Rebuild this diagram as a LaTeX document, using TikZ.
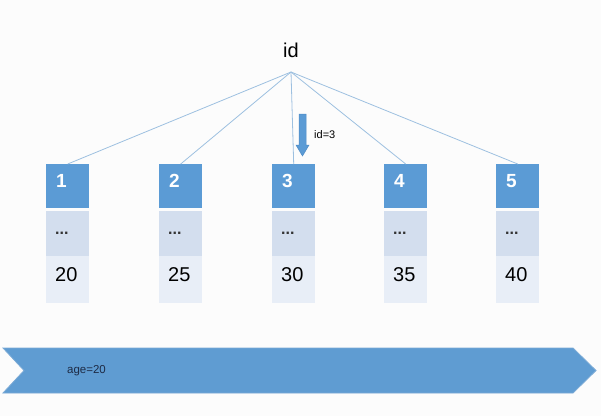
\documentclass[tikz,border=0pt]{standalone}
\usepackage{fontspec}
\setmainfont{Liberation Sans}
\definecolor{keyblue}{HTML}{5B9BD5}
\definecolor{keyedge}{HTML}{4F8CC6}
\definecolor{dotbox}{HTML}{D3DEEE}
\definecolor{valbox}{HTML}{E8EEF7}
\definecolor{linkline}{HTML}{9DC0E0}
\definecolor{chevfill}{HTML}{5F9CD2}
\definecolor{chevedge}{HTML}{7BAAD6}
\definecolor{agetext}{HTML}{1E2B45}
\begin{document}
\begin{tikzpicture}[x=1pt,y=-1pt,
  keybox/.style={fill=keyblue,anchor=north west,minimum width=43pt,minimum height=44pt,inner sep=0pt},
  dotsbox/.style={fill=dotbox,anchor=north west,minimum width=43pt,minimum height=45pt,inner sep=0pt},
  valuebox/.style={fill=valbox,anchor=north west,minimum width=43pt,minimum height=47pt,inner sep=0pt},
  keytxt/.style={anchor=base west,inner sep=0pt,text=white,font=\fontsize{19}{19}\selectfont\bfseries},
  dottxt/.style={anchor=base west,inner sep=0pt,text=black!80,font=\fontsize{16}{16}\selectfont\bfseries},
  valtxt/.style={anchor=base west,inner sep=0pt,text=black,font=\fontsize{20}{20}\selectfont},
  link/.style={draw=linkline,line width=0.8pt}]
\fill[white!99!black] (0,0) rectangle (601,416);
\useasboundingbox (0,0) rectangle (601,416);
% root
\node[inner sep=0pt,font=\fontsize{20}{20}\selectfont,anchor=base] (root) at (291,57) {id};
\coordinate (apex) at (291,72);
% columns
\foreach \i/\x/\v in {1/46/20,2/159/25,3/272/30,4/384/35,5/496/40}{
  \node[keybox] (k\i) at (\x,164) {};
  \node[dotsbox] (d\i) at (\x,211) {};
  \node[valuebox] (v\i) at (\x,256) {};
  \node[keytxt] (kt\i) at (\x+10,187) {\i};
  \node[dottxt] (dt\i) at (\x+9,234.5) {...};
  \node[valtxt] (vt\i) at (\x+9,281) {\v};
  \draw[link] (apex) -- (k\i.north);
}
% search arrow
\draw[fill=keyblue,draw=keyedge,line width=0.5pt]
  (299,114) -- (306,114) -- (306,145) -- (309,145) -- (302.5,156) -- (296,145) -- (299,145) -- cycle;
\node[anchor=west,inner sep=0pt,font=\fontsize{11}{11}\selectfont] (idq) at (314,135) {id=3};
% scan chevron
\filldraw[fill=chevfill,draw=chevedge,line width=0.8pt]
  (3,348) -- (573,348) -- (596,370.5) -- (573,393) -- (3,393) -- (24,370.5) -- cycle;
\node[anchor=west,inner sep=0pt,text=agetext,font=\fontsize{11.5}{11.5}\selectfont] (age) at (67,371) {age=20};
\end{tikzpicture}
\end{document}
